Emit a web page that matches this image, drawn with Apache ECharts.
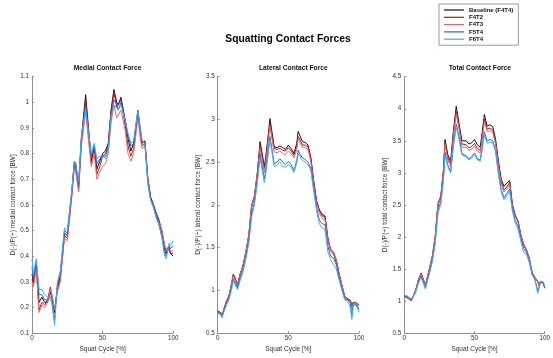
<!DOCTYPE html>
<html>
<head>
<meta charset="utf-8">
<title>Squatting Contact Forces</title>
<script src="https://cdn.jsdelivr.net/npm/echarts@6/dist/echarts.min.js"></script>
<style>
  html, body { margin: 0; padding: 0; background: #fff; }
  #chart { width: 553px; height: 358px; }
</style>
</head>
<body>
<div id="chart"></div>
<script>
const seriesNames = ['Baseline (F4T4)', 'F4T2', 'F4T3', 'F5T4', 'F6T4'];
const seriesColors = ['#111111', '#b8161b', '#e8686c', '#1f6fd6', '#45aaf2'];

// medial contact force [BW]
const medialCycle = [0,1,3,5,7,9,11,13,14,16, 18,20,23,25,28,30,31,33,35,38, 40,42,44,46,48,50,52,54,56,58, 60,61,63,66,68,70,72,75,77,78, 80,82,84,86,88,90,92,94,95,97, 98,100];
const medialBaseline = [0.33,0.30,0.38,0.22,0.24,0.22,0.22,0.26,0.24,0.18, 0.28,0.32,0.49,0.48,0.64,0.77,0.76,0.67,0.86,1.03, 0.90,0.77,0.83,0.74,0.77,0.80,0.81,0.84,0.97,1.05, 1.00,0.99,1.02,0.93,0.86,0.81,0.84,0.97,0.87,0.84, 0.85,0.70,0.63,0.60,0.56,0.53,0.49,0.42,0.41,0.44, 0.41,0.40];
const medialF4T2 = [0.31,0.29,0.36,0.19,0.22,0.21,0.23,0.28,0.25,0.19, 0.27,0.31,0.48,0.47,0.63,0.76,0.74,0.66,0.85,1.01, 0.88,0.76,0.82,0.72,0.75,0.79,0.80,0.83,0.96,1.04, 0.98,0.98,1.01,0.91,0.83,0.79,0.82,0.96,0.86,0.83, 0.84,0.71,0.63,0.60,0.57,0.54,0.50,0.44,0.42,0.44, 0.41,0.41];
const medialF4T3 = [0.30,0.28,0.35,0.18,0.21,0.20,0.22,0.27,0.25,0.19, 0.26,0.30,0.47,0.46,0.62,0.74,0.73,0.65,0.83,0.96, 0.85,0.75,0.80,0.70,0.73,0.75,0.76,0.80,0.92,0.99, 0.94,0.94,0.97,0.89,0.80,0.77,0.80,0.94,0.85,0.82, 0.83,0.70,0.62,0.59,0.55,0.53,0.50,0.44,0.43,0.42, 0.42,0.42];
const medialF5T4 = [0.36,0.31,0.38,0.25,0.25,0.23,0.23,0.24,0.23,0.15, 0.29,0.33,0.50,0.49,0.64,0.76,0.75,0.68,0.86,0.99, 0.89,0.79,0.83,0.76,0.78,0.79,0.79,0.82,0.95,1.01, 0.99,0.97,1.00,0.93,0.87,0.83,0.84,0.96,0.88,0.85, 0.84,0.69,0.62,0.60,0.56,0.52,0.48,0.41,0.40,0.44, 0.43,0.44];
const medialF6T4 = [0.39,0.33,0.39,0.27,0.27,0.25,0.24,0.23,0.22,0.13, 0.30,0.34,0.51,0.50,0.65,0.77,0.76,0.69,0.87,0.97, 0.88,0.80,0.84,0.78,0.79,0.79,0.78,0.81,0.94,0.99, 0.98,0.97,0.99,0.93,0.88,0.84,0.85,0.97,0.89,0.85, 0.84,0.68,0.62,0.59,0.55,0.52,0.47,0.40,0.39,0.45, 0.44,0.46];

// lateral contact force [BW]
const lateralCycle = [0,2,3,4,6,8,10,11,12,14, 16,18,20,22,24,26,28,30,32,33, 34,36,37,38,40,42,44,46,48,50, 52,54,56,57,58,60,62,64,66,68, 70,72,74,76,78,80,82,84,86,88, 90,92,94,95,96,98,100];
const lateralBaseline = [0.76,0.74,0.70,0.75,0.86,0.93,1.08,1.18,1.15,1.05, 1.19,1.29,1.44,1.63,1.97,2.09,2.35,2.74,2.55,2.45, 2.55,2.85,3.01,2.90,2.68,2.67,2.69,2.67,2.65,2.70, 2.66,2.60,2.72,2.86,2.82,2.74,2.73,2.70,2.55,2.28, 2.05,1.94,1.89,1.87,1.60,1.46,1.43,1.33,1.18,1.05, 0.92,0.90,0.88,0.82,0.86,0.84,0.78];
const lateralF4T2 = [0.75,0.74,0.71,0.76,0.87,0.94,1.10,1.19,1.16,1.07, 1.20,1.30,1.46,1.65,2.00,2.11,2.37,2.70,2.52,2.42, 2.52,2.82,2.95,2.86,2.66,2.65,2.66,2.64,2.63,2.67, 2.63,2.58,2.69,2.80,2.77,2.70,2.70,2.68,2.53,2.26, 2.04,1.93,1.87,1.86,1.62,1.48,1.45,1.36,1.20,1.06, 0.93,0.90,0.88,0.80,0.86,0.86,0.83];
const lateralF4T3 = [0.75,0.73,0.70,0.75,0.86,0.93,1.09,1.17,1.15,1.06, 1.19,1.29,1.45,1.64,1.98,2.09,2.35,2.66,2.48,2.38, 2.48,2.78,2.92,2.82,2.62,2.61,2.63,2.60,2.59,2.63, 2.60,2.55,2.65,2.77,2.74,2.67,2.67,2.65,2.50,2.24, 2.02,1.90,1.84,1.82,1.60,1.46,1.43,1.35,1.19,1.05, 0.92,0.89,0.87,0.79,0.85,0.85,0.82];
const lateralF5T4 = [0.74,0.73,0.69,0.74,0.84,0.91,1.05,1.13,1.11,1.03, 1.15,1.25,1.40,1.58,1.90,2.03,2.28,2.60,2.40,2.30, 2.40,2.68,2.80,2.70,2.48,2.50,2.54,2.50,2.47,2.51, 2.47,2.40,2.52,2.64,2.60,2.55,2.53,2.50,2.43,2.20, 1.97,1.82,1.78,1.77,1.52,1.40,1.38,1.30,1.15,1.02, 0.90,0.89,0.85,0.70,0.84,0.82,0.78];
const lateralF6T4 = [0.73,0.72,0.68,0.73,0.82,0.89,1.02,1.11,1.09,1.01, 1.12,1.22,1.37,1.55,1.86,2.00,2.25,2.55,2.36,2.26, 2.36,2.63,2.76,2.66,2.45,2.46,2.50,2.45,2.44,2.47, 2.44,2.38,2.49,2.60,2.57,2.52,2.50,2.47,2.40,2.16, 1.93,1.78,1.73,1.71,1.45,1.36,1.30,1.25,1.12,1.00, 0.89,0.87,0.80,0.66,0.82,0.86,0.74];

// total contact force [BW]
const totalCycle = [0,2,5,8,10,12,15,18,20,22, 24,26,28,29,31,33,35,37,39,41, 44,46,48,50,52,54,55,57,59,61, 63,65,67,69,71,73,75,77,79,81, 83,85,87,89,91,93,95,96,97,99, 100];
const totalBaseline = [1.08,1.06,1.01,1.16,1.32,1.43,1.23,1.50,1.69,1.99, 2.50,2.62,3.06,3.52,3.28,3.18,3.66,4.04,3.76,3.50, 3.50,3.45,3.47,3.52,3.44,3.40,3.55,3.91,3.73,3.75, 3.72,3.52,3.18,2.90,2.79,2.84,2.88,2.50,2.33,2.24, 2.02,1.87,1.79,1.65,1.43,1.36,1.30,1.26,1.30,1.27, 1.20];
const totalF4T2 = [1.07,1.05,1.01,1.16,1.33,1.44,1.25,1.52,1.71,2.01, 2.53,2.64,3.08,3.48,3.24,3.14,3.62,3.96,3.72,3.45, 3.44,3.39,3.41,3.46,3.38,3.35,3.49,3.84,3.68,3.70, 3.67,3.48,3.14,2.86,2.73,2.78,2.85,2.49,2.34,2.25, 2.03,1.89,1.80,1.67,1.45,1.37,1.31,1.24,1.31,1.28, 1.22];
const totalF4T3 = [1.07,1.05,1.00,1.15,1.32,1.42,1.24,1.51,1.70,2.00, 2.51,2.62,3.05,3.44,3.20,3.10,3.58,3.92,3.68,3.40, 3.40,3.35,3.37,3.42,3.34,3.31,3.45,3.80,3.64,3.66, 3.63,3.45,3.11,2.83,2.70,2.75,2.82,2.47,2.32,2.23, 2.02,1.88,1.79,1.66,1.44,1.36,1.30,1.22,1.30,1.27, 1.21];
const totalF5T4 = [1.09,1.07,1.02,1.14,1.29,1.39,1.20,1.46,1.64,1.93, 2.42,2.55,2.96,3.32,3.12,3.02,3.46,3.76,3.56,3.30, 3.27,3.22,3.25,3.31,3.22,3.20,3.33,3.64,3.50,3.52, 3.50,3.35,3.00,2.74,2.61,2.68,2.75,2.44,2.26,2.17, 1.98,1.82,1.76,1.62,1.42,1.34,1.16,1.22,1.30,1.28, 1.21];
const totalF6T4 = [1.09,1.08,1.03,1.13,1.28,1.37,1.19,1.44,1.62,1.90, 2.38,2.51,2.92,3.28,3.10,3.00,3.42,3.72,3.52,3.28, 3.25,3.20,3.23,3.28,3.20,3.18,3.30,3.59,3.46,3.48, 3.47,3.33,2.98,2.70,2.58,2.64,2.71,2.40,2.22,2.12, 1.93,1.76,1.73,1.60,1.41,1.33,1.12,1.20,1.31,1.30, 1.22];

const xTicks = [0, 50, 100];

const panels = [
  { title: 'Medial Contact Force', yName: 'D(-)/P(+) medial contact force [BW]',
    cycle: medialCycle, lines: [medialBaseline, medialF4T2, medialF4T3, medialF5T4, medialF6T4],
    yMin: 0.1, yMax: 1.1, yStep: 0.1, left: 32 },
  { title: 'Lateral Contact Force', yName: 'D(-)/P(+) lateral contact force [BW]',
    cycle: lateralCycle, lines: [lateralBaseline, lateralF4T2, lateralF4T3, lateralF5T4, lateralF6T4],
    yMin: 0.5, yMax: 3.5, yStep: 0.5, left: 217.7 },
  { title: 'Total Contact Force', yName: 'D(-)/P(+) total contact force [BW]',
    cycle: totalCycle, lines: [totalBaseline, totalF4T2, totalF4T3, totalF5T4, totalF6T4],
    yMin: 0.5, yMax: 4.5, yStep: 0.5, left: 404.3 }
];

panels.forEach(p => p.lines.forEach((l, i) => {
  if (l.length !== p.cycle.length) throw new Error(p.title + ' ' + seriesNames[i] + ' length ' + l.length + ' vs ' + p.cycle.length);
}));

const plotTop = 76.7, plotHeight = 262.3, plotWidth = 141.2;
const axisColor = '#8f8f8f';
const labelColor = '#333';
const font = 'Arial, "Liberation Sans", Helvetica, sans-serif';

const chart = echarts.init(document.getElementById('chart'), null, { renderer: 'canvas' });

const option = {
  animation: false,
  backgroundColor: '#fff',
  textStyle: { fontFamily: font },
  title: [
    { text: 'Squatting Contact Forces', left: 283, top: 29, textAlign: 'center',
      textStyle: { fontSize: 10.3, fontWeight: 'bold', color: '#000', fontFamily: font } }
  ].concat(panels.map(p => ({
    text: p.title, left: p.left + plotWidth / 2, top: 60, textAlign: 'center',
    textStyle: { fontSize: 6.7, fontWeight: 'bold', color: '#111', fontFamily: font }
  }))),
  legend: {
    data: seriesNames,
    orient: 'vertical',
    left: 439, top: 4,
    padding: [3, 5, 3, 5],
    icon: 'rect',
    itemWidth: 20, itemHeight: 1.2, itemGap: 1.3,
    backgroundColor: '#fff',
    borderColor: '#9a9a9a', borderWidth: 1,
    selectedMode: false,
    textStyle: { fontSize: 6, fontWeight: 'bold', color: '#111', lineHeight: 6, fontFamily: font }
  },
  grid: panels.map(p => ({ left: p.left, top: plotTop, width: plotWidth, height: plotHeight })),
  xAxis: panels.map((p, i) => ({
    type: 'value', gridIndex: i, min: xTicks[0], max: xTicks[xTicks.length - 1], interval: xTicks[1] - xTicks[0],
    name: 'Squat Cycle [%]', nameLocation: 'middle', nameGap: 7.5,
    nameTextStyle: { fontSize: 6.5, color: labelColor },
    axisLine: { show: true, lineStyle: { color: axisColor, width: 1 } },
    axisTick: { show: true, inside: true, length: 2, lineStyle: { color: axisColor } },
    axisLabel: { fontSize: 6.3, color: labelColor, margin: 2 },
    splitLine: { show: false }
  })),
  yAxis: panels.map((p, i) => ({
    type: 'value', gridIndex: i, min: p.yMin, max: p.yMax, interval: p.yStep,
    name: p.yName, nameLocation: 'middle', nameGap: 15,
    nameTextStyle: { fontSize: 6.5, color: labelColor },
    axisLine: { show: true, lineStyle: { color: axisColor, width: 1 } },
    axisTick: { show: true, inside: true, length: 2, lineStyle: { color: axisColor } },
    axisLabel: { fontSize: 6.3, color: labelColor, margin: 3 },
    splitLine: { show: false }
  })),
  series: []
};

panels.forEach((p, pi) => {
  p.lines.forEach((vals, si) => {
    option.series.push({
      name: seriesNames[si],
      type: 'line',
      xAxisIndex: pi, yAxisIndex: pi,
      symbol: 'none',
      smooth: false,
      color: seriesColors[si],
      lineStyle: { width: 1, color: seriesColors[si] },
      data: p.cycle.map((x, k) => [x, vals[k]])
    });
  });
});

chart.setOption(option);
</script>
</body>
</html>
